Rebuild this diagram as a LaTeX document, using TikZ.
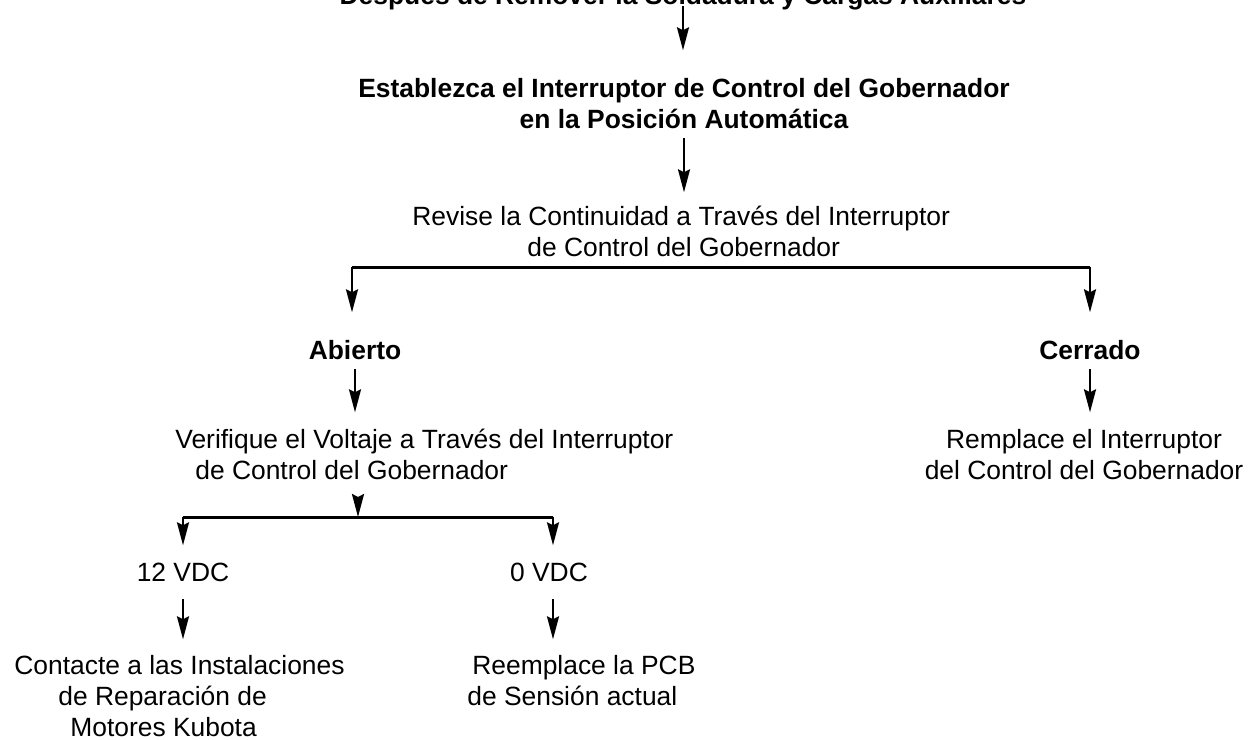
\documentclass[tikz,border=0pt]{standalone}
\usepackage{fontspec}
\setmainfont{Liberation Sans}
\usetikzlibrary{arrows.meta}
\begin{document}
\begin{tikzpicture}[x=0.5pt,y=-0.5pt,
  txt/.style={inner sep=0pt, font=\fontsize{13.2}{15.5}\selectfont, align=left},
  btxt/.style={inner sep=0pt, font=\fontsize{13.2}{15.5}\selectfont\bfseries, align=center},
  arr/.style={line width=1.2pt, -{Stealth[length=11.5pt,width=6pt,inset=1.5pt]}},
  bar/.style={line width=1.5pt}]
\useasboundingbox (0,0) rectangle (1252,739);

\node[btxt, anchor=north] (top) at (683,-17.7) {\strut Después de Remover la Soldadura y Cargas Auxiliares};
\node[btxt, anchor=north] (est) at (684,75.3) {\strut Establezca el Interruptor de Control del Gobernador\\ \strut en la Posición Automática};
\node[txt, anchor=north west] (rev) at (412,203.3) {\strut Revise la Continuidad a Través del Interruptor\\ \hspace*{57.5pt}\strut de Control del Gobernador};
\node[btxt, anchor=north] (ab) at (355,337.3) {\strut Abierto};
\node[btxt, anchor=north] (ce) at (1090,337.3) {\strut Cerrado};
\node[txt, anchor=north west] (ver) at (175,426.3) {\strut Verifique el Voltaje a Través del Interruptor\\ \hspace*{10pt}\strut de Control del Gobernador};
\node[txt, align=center, anchor=north] (rem) at (1084,426.3) {\strut Remplace el Interruptor\\ \strut del Control del Gobernador};
\node[txt, anchor=north] (v12) at (183,559.3) {\strut 12 VDC};
\node[txt, anchor=north] (v0) at (549,559.3) {\strut 0 VDC};
\node[txt, anchor=north west] (con) at (14,652.3) {\strut Contacte a las Instalaciones\\ \hspace*{22pt}\strut de Reparación de\\ \hspace*{28pt}\strut Motores Kubota};
\node[txt, anchor=north west] (ree) at (467,652.3) {\hspace*{2.5pt}\strut Reemplace la PCB\\ \strut de Sensión actual};

\coordinate (bl) at (352,267);
\coordinate (br) at (1090,267);
\coordinate (sl) at (183,517);
\coordinate (sr) at (553,517);
\coordinate (sm) at (358,517);

\draw[arr, shorten <=1pt, shorten >=12.5pt] (top.base) -- (top.base |- est.north);
\draw[arr, shorten >=5.5pt] (est.south) -- (est.south |- rev.north);
\draw[bar] (bl) -- (br);
\draw[arr, shorten >=12.5pt] (bl) -- (bl |- ab.north);
\draw[arr, shorten >=12.5pt] (br) -- (br |- ce.north);
\draw[arr, shorten >=7pt] (ab.south) -- (ab.south |- ver.north);
\draw[arr, shorten >=7pt] (ce.south) -- (ce.south |- rem.north);
\draw[bar] (sl) -- (sr);
\draw[arr, shorten <=6pt] (ver.south -| sm) -- (sm);
\draw[arr, shorten >=7pt] (sl) -- (sl |- v12.north);
\draw[arr, shorten >=7pt] (sr) -- (sr |- v0.north);
\draw[arr, shorten <=4pt, shorten >=6.5pt] (v12.south) -- (v12.south |- con.north);
\draw[arr, shorten <=4pt, shorten >=6.5pt] (sr |- v0.south) -- (sr |- ree.north);
\end{tikzpicture}
\end{document}
